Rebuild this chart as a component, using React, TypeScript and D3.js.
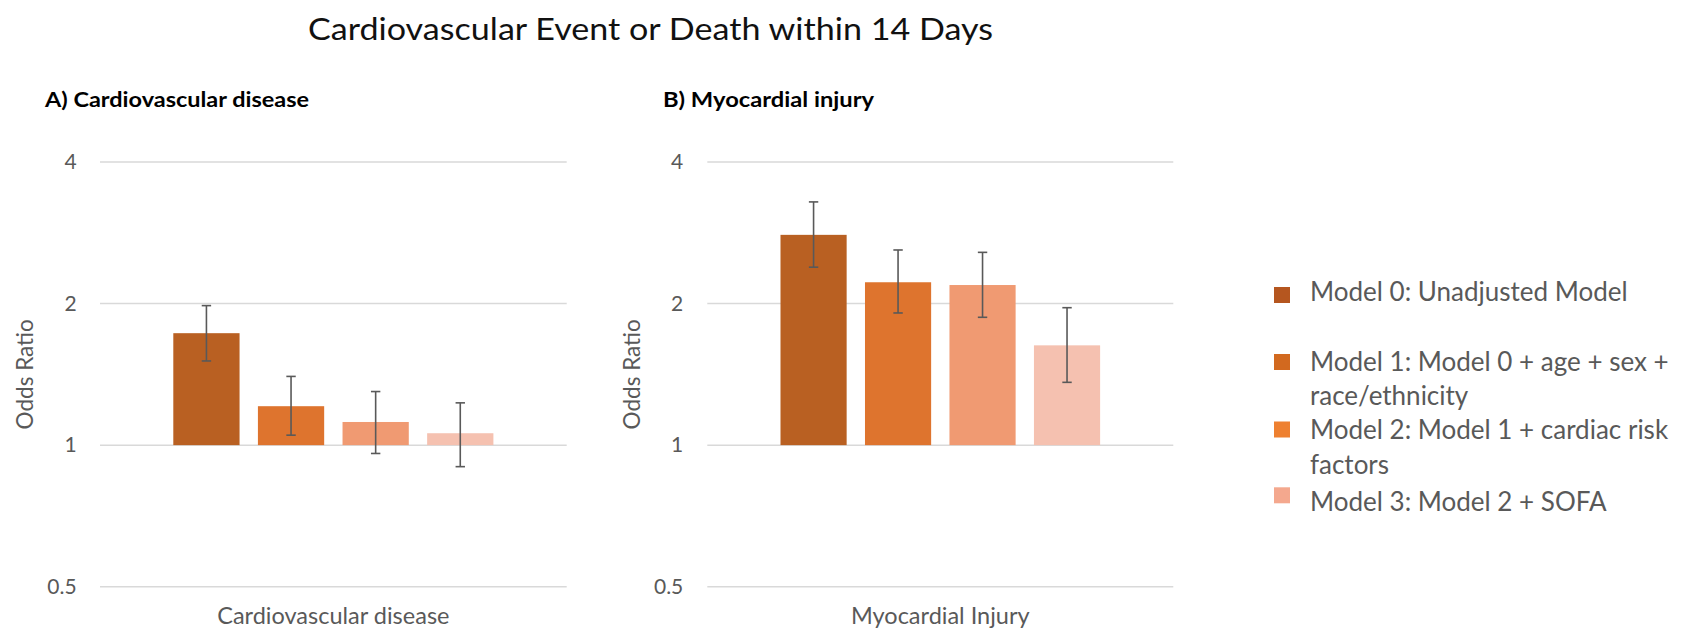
import React from "react";
import * as d3 from "d3";

// ---------- data ----------
const title = "Cardiovascular Event or Death within 14 Days";
const panelTitles = ["A) Cardiovascular disease", "B) Myocardial injury"];
const panelCategories = ["Cardiovascular disease", "Myocardial Injury"];
const models = ["Model 0", "Model 1", "Model 2", "Model 3"];
const legendLabels = [
  ["Model 0: Unadjusted Model"],
  ["Model 1: Model 0 + age + sex +", "race/ethnicity"],
  ["Model 2: Model 1 + cardiac risk", "factors"],
  ["Model 3: Model 2 + SOFA"],
];
const cvdOR = [1.73, 1.21, 1.12, 1.06];
const cvdLower = [1.51, 1.05, 0.96, 0.9];
const cvdUpper = [1.98, 1.4, 1.3, 1.23];
const miOR = [2.8, 2.22, 2.19, 1.63];
const miLower = [2.39, 1.91, 1.87, 1.36];
const miUpper = [3.29, 2.6, 2.57, 1.96];
const yTicks = [0.5, 1, 2, 4];
const yLabel = "Odds Ratio";

// ---------- style ----------
const barColors = ["#B96022", "#DE742E", "#F09A72", "#F5C1B0"];
const legendColors = ["#B5561F", "#D2691F", "#EE8030", "#F4A88E"];
const FONT = "Lato, 'Open Sans', sans-serif";
const GRAY = "#595959";

const W = 1697;
const H = 633;
const plotTop = 162;
const plotBottom = 586.7;

const panels = [
  { left: 100, right: 566.7, tickX: 76.7, yLabelX: 33, or: cvdOR, lo: cvdLower, hi: cvdUpper, titleX: 45, titleW: 264 },
  { left: 707.3, right: 1173.3, tickX: 683.3, yLabelX: 640, or: miOR, lo: miLower, hi: miUpper, titleX: 663, titleW: 211 },
];

const legendLayout = [
  { marker: 295, baselines: [301] },
  { marker: 362, baselines: [371, 405] },
  { marker: 429.5, baselines: [439, 474] },
  { marker: 495.3, baselines: [510.5] },
];

function Panel({ p, idx }: { p: any; idx: number }) {
  const y = d3.scaleLog().base(2).domain([0.5, 4]).range([plotBottom, plotTop]);
  const x0 = d3
    .scaleBand<string>()
    .domain([panelCategories[idx]])
    .range([p.left, p.right])
    .paddingInner(0)
    .paddingOuter(0.229);
  const x1 = d3
    .scaleBand<string>()
    .domain(models)
    .range([0, x0.bandwidth()])
    .paddingInner(0.217)
    .paddingOuter(0);
  const gx = x0(panelCategories[idx]) as number;
  const cx = (p.left + p.right) / 2;
  const cy = (plotTop + plotBottom) / 2;
  const capW = 4.7;
  return (
    <g>
      <text
        x={p.titleX}
        y={107}
        fontFamily={FONT}
        fontWeight={700}
        fontSize={21}
        fill="#000"
        textLength={p.titleW}
        lengthAdjust="spacingAndGlyphs"
      >
        {panelTitles[idx]}
      </text>
      {yTicks.map((t) => (
        <g key={t}>
          <line x1={p.left} x2={p.right} y1={y(t)} y2={y(t)} stroke="#D9D9D9" strokeWidth={1.5} />
          <text
            x={p.tickX}
            y={y(t)}
            dy="0.35em"
            textAnchor="end"
            fontFamily={FONT}
            fontSize={21}
            fill={GRAY}
          >
            {t}
          </text>
        </g>
      ))}
      {models.map((m, i) => {
        const bx = gx + (x1(m) as number);
        const bw = x1.bandwidth();
        const ex = bx + bw / 2;
        return (
          <g key={m}>
            <rect x={bx} y={y(p.or[i])} width={bw} height={y(1) - y(p.or[i])} fill={barColors[i]} />
            <line x1={ex} x2={ex} y1={y(p.hi[i])} y2={y(p.lo[i])} stroke={GRAY} strokeWidth={1.6} />
            <line x1={ex - capW} x2={ex + capW} y1={y(p.hi[i])} y2={y(p.hi[i])} stroke={GRAY} strokeWidth={1.6} />
            <line x1={ex - capW} x2={ex + capW} y1={y(p.lo[i])} y2={y(p.lo[i])} stroke={GRAY} strokeWidth={1.6} />
          </g>
        );
      })}
      <text x={cx} y={624} textAnchor="middle" fontFamily={FONT} fontSize={23.5} fill={GRAY}>
        {panelCategories[idx]}
      </text>
      <text
        transform={`translate(${p.yLabelX},${cy}) rotate(-90)`}
        textAnchor="middle"
        fontFamily={FONT}
        fontSize={22.5}
        fill={GRAY}
      >
        {yLabel}
      </text>
    </g>
  );
}

export default function App() {
  return (
    <div style={{ position: "absolute", left: 0, top: 0 }}>
      <svg width={W} height={H} style={{ display: "block", background: "#fff" }}>
        <text x={308} y={40} fontFamily={FONT} fontSize={31} fill="#111" textLength={685} lengthAdjust="spacingAndGlyphs">
          {title}
        </text>
        {panels.map((p, i) => (
          <Panel key={i} p={p} idx={i} />
        ))}
        {legendLabels.map((lines, i) => (
          <g key={i}>
            <rect x={1274} y={legendLayout[i].marker - 8} width={16} height={16} fill={legendColors[i]} />
            {lines.map((l, j) => (
              <text
                key={j}
                x={1310}
                y={legendLayout[i].baselines[j]}
                fontFamily={FONT}
                fontSize={26}
                fill={GRAY}
              >
                {l}
              </text>
            ))}
          </g>
        ))}
      </svg>
    </div>
  );
}
